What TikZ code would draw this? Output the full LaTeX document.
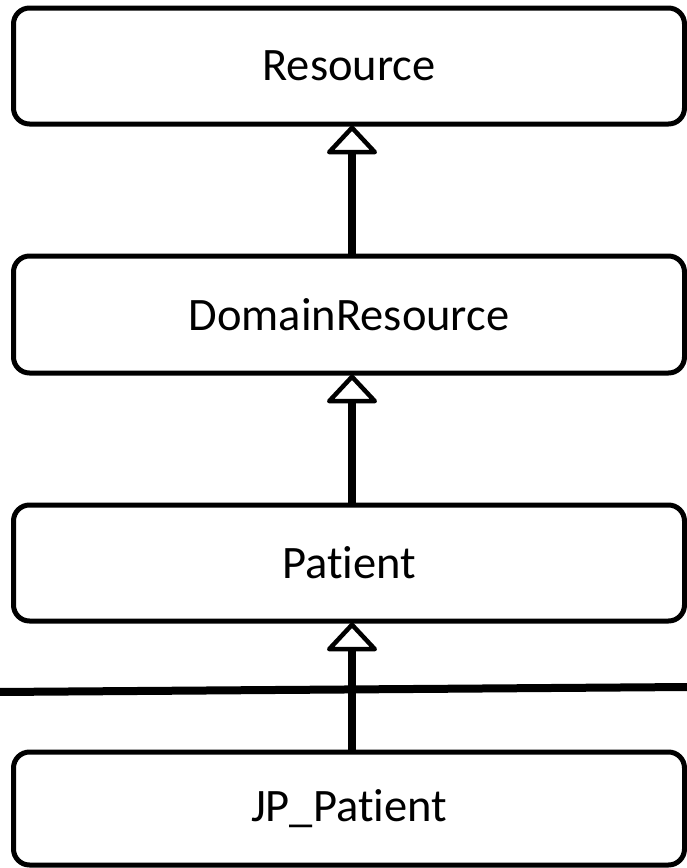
\documentclass[tikz,border=0pt]{standalone}
\usepackage{fontspec}
\setmainfont{Carlito}[Ligatures=NoCommon]
\usetikzlibrary{arrows.meta}
\tikzset{
  classbox/.style={draw=black, line width=5pt, rounded corners=16pt, fill=white,
    minimum width=671pt, inner sep=0pt, font=\fontsize{46.5}{50}\selectfont},
  inh/.style={line width=7.5pt, -{Triangle[open, round, length=30pt, width=55pt, line width=4.5pt]}},
  sep/.style={line width=8pt}
}
\begin{document}
\begin{tikzpicture}[x=1pt,y=-1pt]
\useasboundingbox (0,0) rectangle (686,868);
\node[classbox, minimum height=116pt] (R) at (349,66) {Resource};
\node[classbox, minimum height=117pt] (D) at (349,314.5) {DomainResource};
\node[classbox, minimum height=116pt] (P) at (349,563) {Patient};
\node[classbox, minimum height=113pt] (J) at (349,808.5) {JP\_Patient};
\coordinate (L) at (-2,692);
\coordinate (Rt) at (688,687);
\draw[sep] (L) -- (Rt);
\draw[inh] ([xshift=3pt]D.north) -- ([xshift=3pt,yshift=1pt]R.south);
\draw[inh] ([xshift=3pt]P.north) -- ([xshift=3pt,yshift=1pt]D.south);
\draw[inh] ([xshift=3pt]J.north) -- ([xshift=3pt,yshift=1pt]P.south);
\end{tikzpicture}
\end{document}
